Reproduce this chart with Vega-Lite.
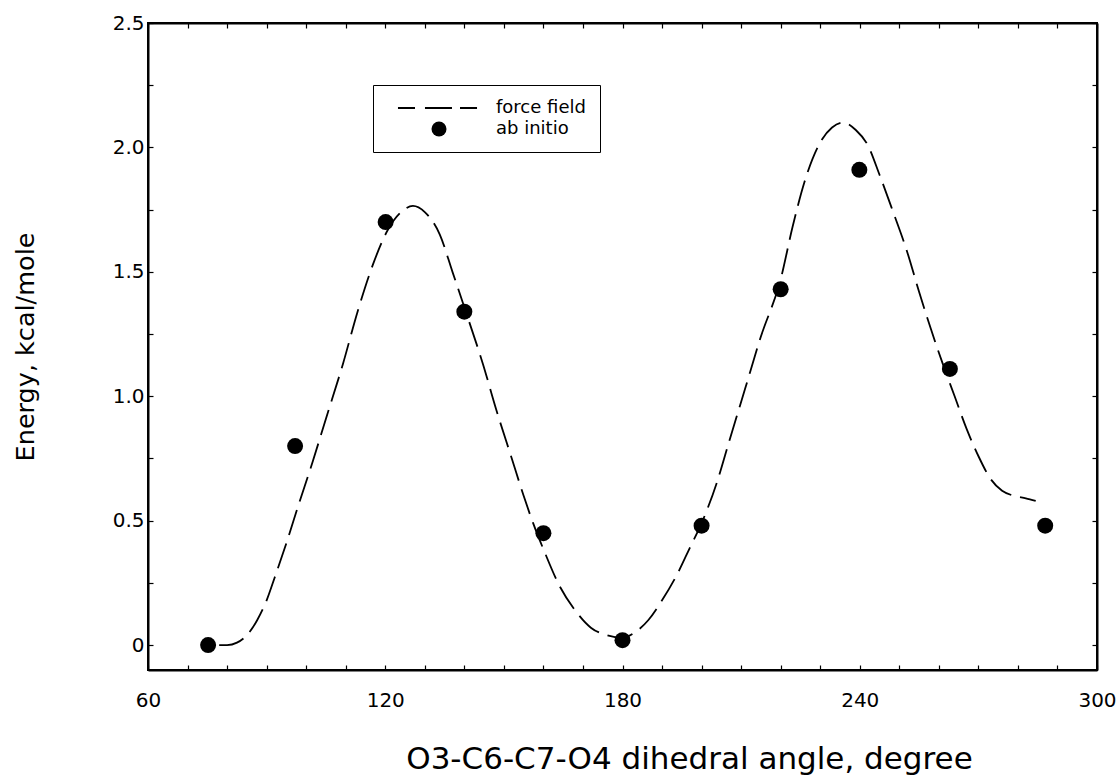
{
  "$schema": "https://vega.github.io/schema/vega-lite/v6.json",
  "width": 949,
  "height": 647,
  "autosize": {"type": "none"},
  "padding": {"left": 148, "top": 23, "right": 20, "bottom": 108},
  "background": "white",
  "config": {
    "view": {"stroke": "black", "strokeWidth": 2},
    "font": "DejaVu Sans",
    "axis": {
      "grid": false,
      "domainColor": "black",
      "domainWidth": 2,
      "tickColor": "black",
      "tickWidth": 1.2,
      "tickSize": -5,
      "labelColor": "black",
      "labelFont": "DejaVu Sans",
      "labelFontSize": 20,
      "titleColor": "black",
      "titleFont": "DejaVu Sans",
      "titleFontWeight": "normal"
    }
  },
  "datasets": {
    "forcefield": [
      {"angle": 78, "energy": 0.0},
      {"angle": 80, "energy": 0.0},
      {"angle": 82.5, "energy": 0.01},
      {"angle": 85, "energy": 0.04},
      {"angle": 87.6, "energy": 0.1},
      {"angle": 90, "energy": 0.18},
      {"angle": 92, "energy": 0.27},
      {"angle": 95, "energy": 0.41},
      {"angle": 98, "energy": 0.56},
      {"angle": 101.7, "energy": 0.74},
      {"angle": 105, "energy": 0.91},
      {"angle": 109.3, "energy": 1.13},
      {"angle": 113, "energy": 1.34},
      {"angle": 116.9, "energy": 1.53},
      {"angle": 120.7, "energy": 1.67},
      {"angle": 124, "energy": 1.74},
      {"angle": 127, "energy": 1.765},
      {"angle": 130, "energy": 1.74},
      {"angle": 133.8, "energy": 1.65},
      {"angle": 137, "energy": 1.5},
      {"angle": 141, "energy": 1.31},
      {"angle": 144.7, "energy": 1.13},
      {"angle": 148, "energy": 0.95},
      {"angle": 152, "energy": 0.75},
      {"angle": 155, "energy": 0.6},
      {"angle": 157.4, "energy": 0.49},
      {"angle": 160.4, "energy": 0.37},
      {"angle": 164, "energy": 0.24},
      {"angle": 168, "energy": 0.14},
      {"angle": 172, "energy": 0.07},
      {"angle": 176, "energy": 0.04},
      {"angle": 180, "energy": 0.03},
      {"angle": 183, "energy": 0.05},
      {"angle": 186.5, "energy": 0.1},
      {"angle": 190, "energy": 0.18},
      {"angle": 194, "energy": 0.29},
      {"angle": 197, "energy": 0.39},
      {"angle": 200, "energy": 0.49},
      {"angle": 204, "energy": 0.66},
      {"angle": 207, "energy": 0.82},
      {"angle": 211, "energy": 1.03},
      {"angle": 215, "energy": 1.24},
      {"angle": 220, "energy": 1.47},
      {"angle": 223, "energy": 1.68},
      {"angle": 226, "energy": 1.86},
      {"angle": 230, "energy": 2.02},
      {"angle": 233, "energy": 2.08},
      {"angle": 235.8, "energy": 2.1},
      {"angle": 239, "energy": 2.07},
      {"angle": 242, "energy": 2.01},
      {"angle": 245, "energy": 1.89},
      {"angle": 248, "energy": 1.76},
      {"angle": 252, "energy": 1.58},
      {"angle": 255, "energy": 1.42},
      {"angle": 258, "energy": 1.27},
      {"angle": 261, "energy": 1.13},
      {"angle": 264, "energy": 1.0},
      {"angle": 267, "energy": 0.87},
      {"angle": 270, "energy": 0.76},
      {"angle": 273, "energy": 0.67},
      {"angle": 276, "energy": 0.62},
      {"angle": 279, "energy": 0.6},
      {"angle": 282, "energy": 0.59},
      {"angle": 284.5, "energy": 0.58}
    ],
    "abinitio": [
      {"angle": 75.2, "energy": 0.0, "series": "ab initio"},
      {"angle": 97.2, "energy": 0.8, "series": "ab initio"},
      {"angle": 120.1, "energy": 1.7, "series": "ab initio"},
      {"angle": 140.0, "energy": 1.34, "series": "ab initio"},
      {"angle": 160.0, "energy": 0.45, "series": "ab initio"},
      {"angle": 180.0, "energy": 0.02, "series": "ab initio"},
      {"angle": 200.0, "energy": 0.48, "series": "ab initio"},
      {"angle": 220.0, "energy": 1.43, "series": "ab initio"},
      {"angle": 239.9, "energy": 1.91, "series": "ab initio"},
      {"angle": 262.8, "energy": 1.11, "series": "ab initio"},
      {"angle": 286.9, "energy": 0.48, "series": "ab initio"}
    ]
  },
  "layer": [
    {
      "data": {"name": "forcefield"},
      "mark": {"type": "line", "color": "black", "strokeWidth": 1.8, "strokeDash": [26, 9], "interpolate": "monotone", "strokeCap": "butt"},
      "encoding": {
        "x": {
          "field": "angle", "type": "quantitative",
          "scale": {"domain": [60, 300], "nice": false, "zero": false},
          "axis": {
            "orient": "bottom",
            "title": "O3-C6-C7-O4 dihedral angle, degree",
            "titleFontSize": 31,
            "titlePadding": 34,
            "titleX": 541,
            "titleAlign": "center",
            "labelPadding": 25,
            "labelFontSize": 20,
            "values": [60, 70, 80, 90, 100, 110, 120, 130, 140, 150, 160, 170, 180, 190, 200, 210, 220, 230, 240, 250, 260, 270, 280, 290, 300],
            "labelExpr": "datum.value % 60 === 0 ? datum.label : ''",
            "labelFlush": false
          }
        },
        "y": {
          "field": "energy", "type": "quantitative",
          "scale": {"domain": [-0.1, 2.5], "nice": false, "zero": false},
          "axis": {
            "orient": "left",
            "title": "Energy, kcal/mole",
            "titleFontSize": 25.5,
            "titlePadding": 74,
            "labelPadding": 9,
            "labelFontSize": 20,
            "values": [0, 0.25, 0.5, 0.75, 1, 1.25, 1.5, 1.75, 2, 2.25, 2.5],
            "labelExpr": "datum.value % 0.5 === 0 ? (datum.value === 0 ? '0' : format(datum.value, '.1f')) : ''",
            "labelFlush": false
          }
        }
      }
    },
    {
      "data": {"name": "abinitio"},
      "mark": {"type": "point", "filled": true, "color": "black", "opacity": 1, "size": 256},
      "encoding": {
        "x": {
          "field": "angle", "type": "quantitative",
          "axis": {
            "orient": "top", "title": null, "labels": false,
            "values": [60, 70, 80, 90, 100, 110, 120, 130, 140, 150, 160, 170, 180, 190, 200, 210, 220, 230, 240, 250, 260, 270, 280, 290, 300]
          }
        },
        "y": {
          "field": "energy", "type": "quantitative",
          "axis": {
            "orient": "right", "title": null, "labels": false,
            "values": [0, 0.25, 0.5, 0.75, 1, 1.25, 1.5, 1.75, 2, 2.25, 2.5]
          }
        },
        "shape": {
          "field": "series", "type": "nominal",
          "scale": {
            "domain": ["force field", "ab initio"],
            "range": ["M-5.47,-0.12H-3.2V0.12H-5.47ZM-1.87,-0.12H1.73V0.12H-1.87ZM2.8,-0.12H5.07V0.12H2.8Z", "circle"]
          },
          "legend": {
            "title": null,
            "orient": "none",
            "legendX": 225,
            "legendY": 62,
            "padding": 14,
            "strokeColor": "black",
            "fillColor": "white",
            "symbolSize": 225,
            "symbolOffset": 43,
            "symbolFillColor": "black",
            "symbolStrokeWidth": 0,
            "symbolOpacity": 1,
            "labelOffset": 48,
            "labelFont": "DejaVu Sans",
            "labelFontSize": 18,
            "labelColor": "black",
            "rowPadding": 3,
            "encode": {
              "symbols": {
                "update": {
                  "fill": {"value": "black"},
                  "fillOpacity": {"value": 1},
                  "stroke": {"value": "transparent"},
                  "strokeWidth": {"value": 0}
                }
              }
            }
          }
        }
      }
    }
  ],
  "resolve": {"axis": {"x": "independent", "y": "independent"}}
}
